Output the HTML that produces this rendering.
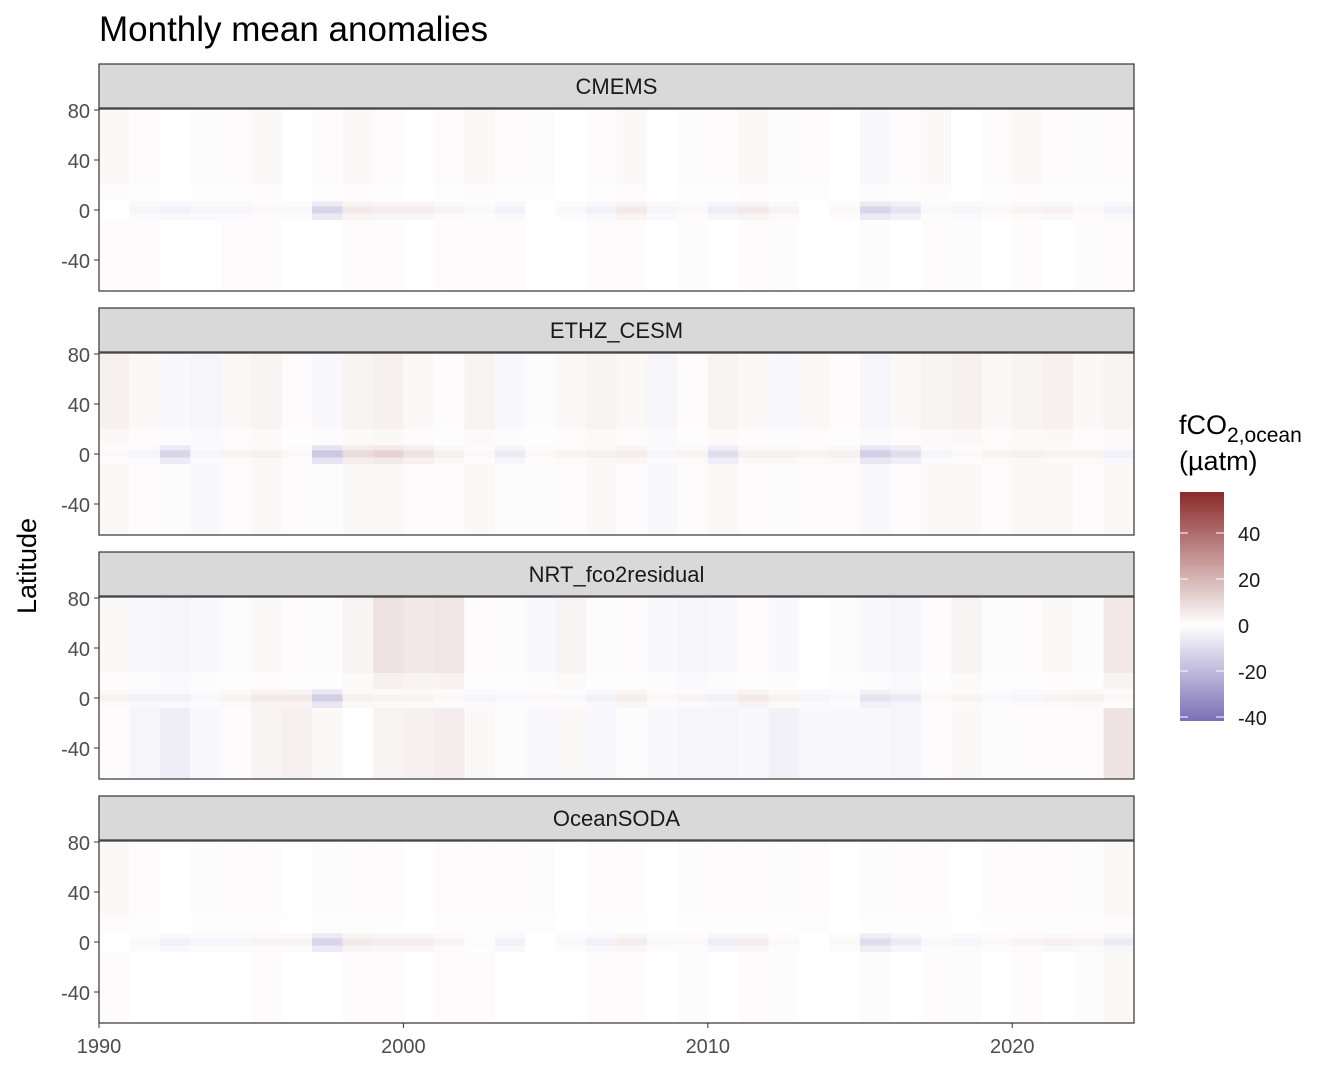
<!DOCTYPE html>
<html><head><meta charset="utf-8"><style>
body{margin:0;background:#fff;font-family:"Liberation Sans",sans-serif}
</style></head><body>
<svg id="c" width="1344" height="1075" xmlns="http://www.w3.org/2000/svg">
<text x="99" y="41" font-size="35" fill="#000">Monthly mean anomalies</text>
<text transform="translate(36,566) rotate(-90)" text-anchor="middle" font-size="27">Latitude</text>
<g id="panels"></g>
<g id="xaxis"></g>
<g>
<text x="1179" y="434" font-size="27">fCO<tspan font-size="21" dy="8">2,ocean</tspan></text>
<text x="1179" y="470" font-size="27">(µatm)</text>
<defs><linearGradient id="lg" x1="0" y1="1" x2="0" y2="0">
<stop offset="0" stop-color="#7a6fb6"/><stop offset="0.418" stop-color="#ffffff"/><stop offset="1" stop-color="#8b2a2a"/></linearGradient></defs>
<rect x="1180" y="492" width="44" height="229" fill="url(#lg)"/>
<g id="cbt"></g>
</g>
</svg>
<script>
const years=[];for(let y=1990;y<2024;y++)years.push(y);
const panelNames=["CMEMS","ETHZ_CESM","NRT_fco2residual","OceanSODA"];
// equatorial anomalies per year (µatm)
const eqCMEMS=[0,-3,-4,-3,-3,2,-2,-12,6,5,5,3,-2,-4,0,-2,-4,6,-3,2,-5,6,3,0,2,-12,-8,-2,-3,2,3,4,2,-4];
const eqETHZ=[2,-3,-12,-3,3,4,2,-16,10,12,8,4,2,-6,2,3,4,5,-3,3,-10,4,4,3,4,-14,-10,-3,2,3,4,3,3,-4];
const eqNRT=[3,-4,-4,-2,3,6,6,-14,4,3,3,2,-3,-2,2,-2,-4,5,2,3,-4,6,3,-3,-2,-8,-6,2,3,-2,-3,3,4,2];
const eqSODA=[0,-2,-4,-3,-3,3,3,-12,6,5,5,3,-1,-4,0,-2,-4,5,-2,2,-5,5,2,0,2,-10,-6,-2,-3,2,3,4,3,-6];
// northern (20-81) background anomalies
const nCMEMS=[2,1,0,-1,1,2,0,1,2,1,0,1,2,1,-1,0,1,2,0,-1,1,2,-1,1,0,-2,1,2,0,1,2,1,-1,1];
const nETHZ=[4,2,-2,-3,2,3,1,-2,3,4,2,1,3,-2,-1,2,3,2,-3,1,3,2,-2,2,1,-3,2,3,4,2,3,4,2,3];
const nNRT=[2,-2,-3,-2,-1,2,1,-1,3,8,6,7,1,-1,-2,3,-1,1,-2,-3,-2,1,-2,0,-1,-2,-3,1,3,-1,1,2,-1,6];
const nSODA=[2,1,0,-1,1,1,0,-1,1,1,0,1,1,1,-1,0,1,1,0,-1,1,1,-1,1,0,-1,1,1,0,1,1,1,-1,2];
// southern (-65 to -10) background anomalies
const sCMEMS=[1,1,0,0,1,1,0,0,1,1,0,1,1,1,0,0,1,1,0,-1,0,1,-1,0,0,-1,0,1,-1,0,1,0,-1,1];
const sETHZ=[2,1,-1,-2,1,2,1,-1,2,2,1,1,2,-1,-1,1,2,1,-2,1,2,1,-1,1,1,-2,1,2,2,1,2,2,1,2];
const sNRT=[1,-3,-5,-2,1,3,4,2,0,3,4,5,2,-1,-2,2,-2,-1,-2,-3,-3,-2,-4,-2,-2,-2,-3,1,2,-1,1,1,1,8];
const sSODA=[1,0,0,0,0,1,0,0,1,1,0,1,1,0,0,0,1,1,0,-1,0,1,-1,0,0,-1,0,1,-1,0,1,0,-1,2];
const eqs=[eqCMEMS,eqETHZ,eqNRT,eqSODA],ns=[nCMEMS,nETHZ,nNRT,nSODA],ss=[sCMEMS,sETHZ,sNRT,sSODA];
const yTicks=[80,40,0,-40],xTicks=[1990,2000,2010,2020],cbTicks=[40,20,0,-20,-40];

const NS="http://www.w3.org/2000/svg";
function mk(t,a,p){const e=document.createElementNS(NS,t);for(const k in a)e.setAttribute(k,a[k]);p.appendChild(e);return e;}
const X0=99,X1=1134;
const xs=y=>X0+(y-1990)*(X1-X0)/34;
function col(v){const lo=[122,111,182],hi=[139,42,42];let t=Math.max(-1,Math.min(1,v/(v>=0?58:42)));const c=t>=0?hi:lo;t=Math.abs(t);
return `rgb(${Math.round(255+(c[0]-255)*t)},${Math.round(255+(c[1]-255)*t)},${Math.round(255+(c[2]-255)*t)})`;}
const P=document.getElementById('panels');
panelNames.forEach((nm,i)=>{
 const top=64+i*244,pt=top+45,pb=pt+182;
 const ys=l=>pt-0.25+(81-l)*1.25;
 const g=mk('g',{},P);
 
 
 const s=mk('rect',{x:X0,y:top,width:X1-X0,height:44,fill:'#d9d9d9',stroke:'#333','stroke-width':1.2},g);
 
 const st=mk('text',{x:(X0+X1)/2,y:top+30,'text-anchor':'middle','font-size':22,fill:'#1a1a1a'},g);st.textContent=nm;
 
 years.forEach((yr,j)=>{
  const x=xs(yr),w=xs(yr+1)-x+0.5;
  const bands=[[81.3,20,ns[i][j]],[20,7,ns[i][j]*0.5],[7,3,eqs[i][j]*0.5],[3,-3,eqs[i][j]],[-3,-8,eqs[i][j]*0.5],[-8,-65,ss[i][j]]];
  bands.forEach(b=>{const r=mk('rect',{x:x,y:ys(b[0]),width:w,height:ys(b[1])-ys(b[0]),fill:col(b[2])},g);
   });
 });
 mk('rect',{x:X0,y:pt,width:X1-X0,height:pb-pt,fill:'none',stroke:'#333','stroke-width':1.2},g);
 yTicks.forEach(v=>{const y=ys(v);mk('line',{x1:X0-5,x2:X0,y1:y,y2:y,stroke:'#333'},g);
  const t=mk('text',{x:X0-9,y:y+8,'text-anchor':'end','font-size':20,fill:'#4d4d4d'},g);t.textContent=v;
  });
});
const XA=document.getElementById('xaxis');
xTicks.forEach(v=>{const x=xs(v);mk('line',{x1:x,x2:x,y1:1023,y2:1028,stroke:'#333'},XA);
 const t=mk('text',{x:x,y:1053,'text-anchor':'middle','font-size':20,fill:'#4d4d4d'},XA);t.textContent=v;
 });
const CB=document.getElementById('cbt');
cbTicks.forEach(v=>{const y=625-v*2.3;
 mk('line',{x1:1180,x2:1188,y1:y,y2:y,stroke:'#fff'},CB);mk('line',{x1:1216,x2:1224,y1:y,y2:y,stroke:'#fff'},CB);
 const t=mk('text',{x:1238,y:y+8,'font-size':20,fill:'#1a1a1a'},CB);t.textContent=v;
 });
</script>
</body></html>
